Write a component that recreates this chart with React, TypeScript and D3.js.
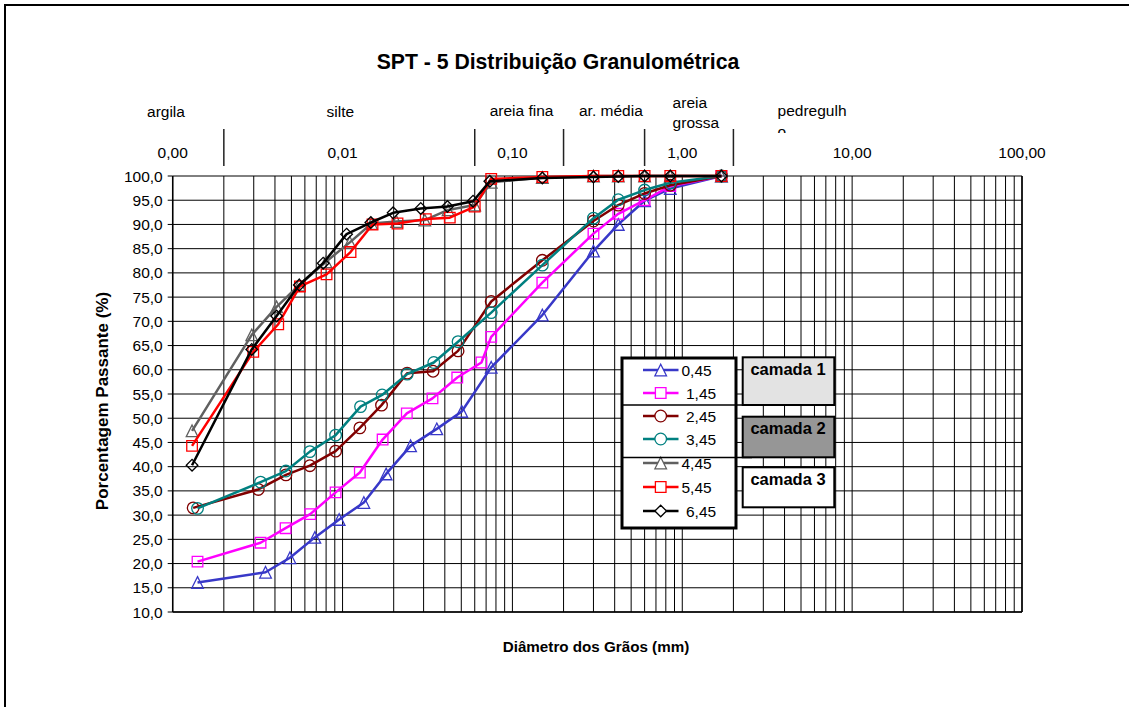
// @ts-nocheck
import * as d3 from 'd3';
import React from 'react';

// ---- data ----
const seriesNames = ['0,45', '1,45', '2,45', '3,45', '4,45', '5,45', '6,45'];
const seriesColors = ['#3838C8', '#FF00FF', '#800000', '#008080', '#606060', '#FF0000', '#000000'];
const seriesMarkers = ['triangle', 'square', 'circle', 'circle', 'triangle', 'square', 'diamond'];

const diam045 = [0.0014, 0.00352, 0.0049, 0.00687, 0.00955, 0.01335, 0.01805, 0.02515, 0.03587, 0.05033, 0.075, 0.15, 0.3, 0.42, 0.6, 0.85, 1.7];
const pass045 = [16.1, 18.2, 21.2, 25.4, 29.1, 32.6, 38.5, 44.3, 47.8, 51.4, 60.5, 71.3, 84.5, 90.0, 94.9, 97.4, 100];

const diam145 = [0.0014, 0.00329, 0.00462, 0.00645, 0.0091, 0.01264, 0.01721, 0.02389, 0.03384, 0.04735, 0.0657, 0.075, 0.15, 0.3, 0.42, 0.6, 0.85, 1.7];
const pass145 = [20.4, 24.3, 27.3, 30.2, 34.7, 38.8, 45.6, 51.0, 54.1, 58.4, 61.5, 66.8, 78.0, 88.1, 92.2, 95.0, 97.9, 100];

const diam245 = [0.00132, 0.00319, 0.00464, 0.00642, 0.0091, 0.01264, 0.01696, 0.024, 0.03411, 0.04786, 0.075, 0.15, 0.3, 0.42, 0.6, 0.85, 1.7];
const pass245 = [31.5, 35.3, 38.3, 40.2, 43.2, 48.0, 52.7, 59.3, 59.7, 63.9, 74.1, 82.6, 90.7, 94.0, 96.4, 98.1, 100];

const diam345 = [0.0014, 0.00329, 0.00464, 0.00642, 0.0091, 0.01276, 0.0171, 0.024, 0.03444, 0.04786, 0.075, 0.15, 0.3, 0.42, 0.6, 0.85, 1.7];
const pass345 = [31.4, 36.8, 39.1, 43.1, 46.5, 52.4, 54.8, 59.1, 61.5, 65.8, 71.8, 81.6, 91.3, 95.1, 97.1, 98.6, 100];

const diam445 = [0.0013, 0.00292, 0.00409, 0.00556, 0.00798, 0.01104, 0.01481, 0.02078, 0.03049, 0.0418, 0.06, 0.075, 0.15, 0.3, 0.42, 0.6, 0.85, 1.7];
const pass445 = [47.4, 67.2, 73.0, 77.5, 82.3, 86.3, 90.2, 90.6, 90.9, 93.0, 94.0, 98.7, 99.7, 100, 100, 100, 100, 100];

const diam545 = [0.0013, 0.00298, 0.00418, 0.00561, 0.00805, 0.01114, 0.01501, 0.02106, 0.0309, 0.04278, 0.06, 0.075, 0.15, 0.3, 0.42, 0.6, 0.85, 1.7];
const pass545 = [44.3, 63.7, 69.4, 77.2, 79.7, 84.3, 90.0, 90.2, 91.1, 91.4, 93.7, 99.4, 99.8, 100, 100, 100, 100, 100];

const diam645 = [0.0013, 0.00292, 0.00409, 0.00556, 0.00769, 0.01056, 0.01467, 0.01984, 0.02887, 0.04146, 0.05864, 0.0736, 0.15, 0.3, 0.42, 0.6, 0.85, 1.7];
const pass645 = [40.3, 64.2, 71.1, 77.5, 82.0, 88.0, 90.4, 92.4, 93.3, 93.7, 94.8, 98.9, 99.6, 99.8, 99.9, 100, 100, 100];

const allDiam = [diam045, diam145, diam245, diam345, diam445, diam545, diam645];
const allPass = [pass045, pass145, pass245, pass345, pass445, pass545, pass645];

// soil fraction boundaries (mm) and labels (left edge of each label, in mm)
const fractionLimits = [0.002, 0.06, 0.2, 0.6, 2.0];
const fractionLabels = [
  { lines: ['argila'], at: 0.000706 },
  { lines: ['silte'], at: 0.00805 },
  { lines: ['areia fina'], at: 0.0735 },
  { lines: ['ar. média'], at: 0.2466 },
  { lines: ['areia', 'grossa'], at: 0.877 },
  { lines: ['pedregulh', 'o'], at: 3.64 },
];
const topTicks = [0.001, 0.01, 0.1, 1, 10, 100];
const layerNames = ['camada 1', 'camada 2', 'camada 3'];
const layerFills = ['#E3E3E3', '#969696', '#FFFFFF'];

const W = 1129;
const H = 707;
const font = 'Arial, "Liberation Sans", sans-serif';

function markerPath(type, cx, cy) {
  const s = 5.8;
  if (type === 'triangle') return `M${cx},${cy - s}L${cx + s},${cy + s}L${cx - s},${cy + s}Z`;
  if (type === 'square') {
    const q = 5.3;
    return `M${cx - q},${cy - q}h${2 * q}v${2 * q}h${-2 * q}Z`;
  }
  if (type === 'diamond') return `M${cx},${cy - s}L${cx + s},${cy}L${cx},${cy + s}L${cx - s},${cy}Z`;
  return `M${cx - s},${cy}a${s},${s} 0 1,0 ${2 * s},0a${s},${s} 0 1,0 ${-2 * s},0`;
}

export default function App() {
  const margin = { left: 172.7, right: 1022, top: 176, bottom: 612 };
  const x = d3.scaleLog().domain([0.001, 100]).range([margin.left, margin.right]);
  const y = d3.scaleLinear().domain([10, 100]).range([margin.bottom, margin.top]);

  const yTicks = d3.range(10, 100.01, 5);
  const xGrid = [];
  for (let e = -3; e <= 1; e++) for (let k = 1; k <= 9; k++) xGrid.push(k * Math.pow(10, e));
  xGrid.push(100);

  const line = d3
    .line()
    .x(d => x(d[0]))
    .y(d => y(d[1]));

  const fmt = v => v.toFixed(1).replace('.', ',');
  const fmtTop = v => v.toFixed(2).replace('.', ',');

  // legend geometry
  const lg = { x: 622, y: 358, w: 114, h: 170 };
  const legendY = [370, 393, 416, 439, 463, 487, 511];

  return (
    <svg width={W} height={H} style={{ position: 'absolute', left: 0, top: 0, background: '#fff' }} fontFamily={font}>
      <defs>
        <clipPath id="labelClip">
          <rect x={0} y={0} width={W} height={133} />
        </clipPath>
      </defs>
      {/* chart border */}
      <rect x={5} y={5} width={W + 10} height={H + 10} fill="#fff" stroke="#000" strokeWidth={2} />

      <text x={558} y={69} textAnchor="middle" fontSize={21.2} fontWeight="bold">
        SPT - 5 Distribuição Granulométrica
      </text>

      {/* gridlines */}
      <g stroke="#000" strokeWidth={1}>
        {yTicks.map(t => (
          <line key={'h' + t} x1={margin.left} x2={margin.right} y1={y(t)} y2={y(t)} />
        ))}
        {xGrid.map((t, i) => (
          <line key={'v' + i} x1={x(t)} x2={x(t)} y1={margin.top} y2={margin.bottom} />
        ))}
      </g>
      {/* axes */}
      <line x1={margin.left} x2={margin.left} y1={margin.top} y2={margin.bottom} stroke="#000" strokeWidth={1.5} />
      <line x1={margin.left} x2={margin.right} y1={margin.bottom} y2={margin.bottom} stroke="#000" strokeWidth={1.5} />
      <line x1={margin.right} x2={margin.right} y1={margin.top} y2={margin.bottom} stroke="#000" strokeWidth={1.5} />
      {yTicks.map(t => (
        <g key={'yt' + t}>
          <line x1={margin.left - 5} x2={margin.left} y1={y(t)} y2={y(t)} stroke="#000" />
          <text x={margin.left - 10} y={y(t) + 5.5} textAnchor="end" fontSize={15.5}>
            {fmt(t)}
          </text>
        </g>
      ))}

      {/* top tick labels */}
      {topTicks.map(t => (
        <text key={'tt' + t} x={x(t)} y={158} textAnchor="middle" fontSize={15.5}>
          {fmtTop(t)}
        </text>
      ))}

      {/* fraction dividers and names */}
      {fractionLimits.map(v => (
        <line key={'fl' + v} x1={x(v)} x2={x(v)} y1={129} y2={166} stroke="#222" strokeWidth={1.5} />
      ))}
      <g clipPath="url(#labelClip)">
        {fractionLabels.map((f, i) => (
          <text key={'fn' + i} x={x(f.at)} y={i === 4 ? 108 : i < 2 ? 117 : 116} fontSize={15.5}>
            {f.lines.map((l, j) => (
              <tspan key={j} x={x(f.at)} dy={j === 0 ? 0 : i === 4 ? 20 : 21}>
                {l}
              </tspan>
            ))}
          </text>
        ))}
      </g>

      {/* axis titles */}
      <text
        transform={`translate(108,${(margin.top + margin.bottom) / 2 + 7}) rotate(-90)`}
        textAnchor="middle"
        fontSize={17}
        fontWeight="bold"
      >
        Porcentagem Passante (%)
      </text>
      <text x={596} y={652} textAnchor="middle" fontSize={15.2} fontWeight="bold">
        Diâmetro dos Grãos (mm)
      </text>

      {/* series */}
      {seriesNames.map((name, si) => {
        const pts = allDiam[si].map((d, i) => [d, allPass[si][i]]);
        return (
          <g key={name}>
            <path d={line(pts)} fill="none" stroke={seriesColors[si]} strokeWidth={2.5} strokeLinejoin="round" />
            {pts.map((p, i) => (
              <path
                key={i}
                d={markerPath(seriesMarkers[si], x(p[0]), y(p[1]))}
                fill="none"
                stroke={seriesColors[si]}
                strokeWidth={1.3}
              />
            ))}
          </g>
        );
      })}

      {/* legend */}
      <rect x={lg.x} y={lg.y} width={lg.w} height={lg.h} fill="#fff" stroke="#000" strokeWidth={3} />
      {seriesNames.map((name, si) => (
        <g key={'lg' + name}>
          <line x1={643} x2={678.5} y1={legendY[si]} y2={legendY[si]} stroke={seriesColors[si]} strokeWidth={2.5} />
          <path d={markerPath(seriesMarkers[si], 660.7, legendY[si])} fill="#fff" stroke={seriesColors[si]} strokeWidth={1.3} />
          <text x={si === 0 || si === 4 || si === 5 ? 681.5 : 686} y={legendY[si] + 5.5} fontSize={15.5}>
            {name}
          </text>
        </g>
      ))}
      <line x1={621} x2={752} y1={405} y2={405} stroke="#000" strokeWidth={1.5} />
      <line x1={621} x2={752} y1={457.5} y2={457.5} stroke="#000" strokeWidth={1.5} />

      {/* layer boxes */}
      {layerNames.map((n, i) => {
        const tops = [357.3, 416.7, 467.3];
        const bots = [405, 457.3, 507.3];
        return (
          <g key={n}>
            <rect x={742.7} y={tops[i]} width={91.6} height={bots[i] - tops[i]} fill={layerFills[i]} stroke="#000" strokeWidth={2} />
            <text x={788} y={tops[i] + 17.5} textAnchor="middle" fontSize={16.5} fontWeight="bold">
              {n}
            </text>
          </g>
        );
      })}
    </svg>
  );
}
